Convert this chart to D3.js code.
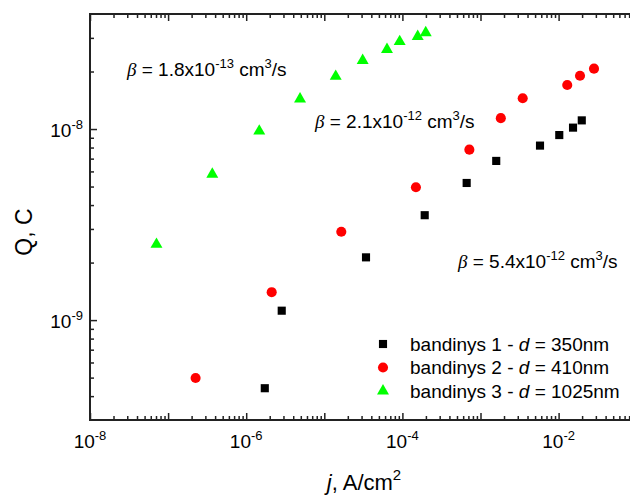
<!DOCTYPE html>
<html>
<head>
<meta charset="utf-8">
<script src="https://cdn.jsdelivr.net/npm/d3@7"></script>
<style>
  body { margin: 0; background: #fff; }
  svg { display: block; font-family: Arial, "Liberation Sans", sans-serif; }
</style>
</head>
<body>
<svg id="chart" width="630" height="495"></svg>
<script>
// current density j (A/cm2) and charge Q (C) for each sample
const j1 = [1.73e-6, 2.85e-6, 3.42e-5, 1.93e-4, 6.65e-4, 1.59e-3, 5.78e-3, 1.02e-2, 1.53e-2, 1.98e-2];
const q1 = [4.40e-10, 1.12e-9, 2.13e-9, 3.54e-9, 5.22e-9, 6.81e-9, 8.19e-9, 9.30e-9, 1.017e-8, 1.11e-8];
const j2 = [2.25e-7, 2.12e-6, 1.65e-5, 1.49e-4, 7.2e-4, 1.82e-3, 3.47e-3, 1.29e-2, 1.88e-2, 2.84e-2];
const q2 = [4.98e-10, 1.40e-9, 2.90e-9, 4.96e-9, 7.80e-9, 1.14e-8, 1.45e-8, 1.70e-8, 1.90e-8, 2.07e-8];
const j3 = [7.1e-8, 3.68e-7, 1.47e-6, 4.89e-6, 1.40e-5, 3.10e-5, 6.35e-5, 9.23e-5, 1.57e-4, 1.99e-4];
const q3 = [2.49e-9, 5.80e-9, 9.76e-9, 1.436e-8, 1.886e-8, 2.286e-8, 2.61e-8, 2.87e-8, 3.05e-8, 3.19e-8];

const sampleNames = ["bandinys 1 - ", "bandinys 2 - ", "bandinys 3 - "];
const thickness = ["350nm", "410nm", "1025nm"];
const betaMantissa = ["1.8", "2.1", "5.4"];
const betaExponent = ["-13", "-12", "-12"];
const xLabelExp = [-8, -6, -4, -2];
const yLabelExp = [-9, -8];

const svg = d3.select("svg#chart");

const plotLeft = 90, plotTop = 14, plotBottom = 420;
const decadeW = 78.1;

var x = d3.scaleLog().domain([1e-8, 1]).range([plotLeft, plotLeft + 8 * decadeW]);
var y = d3.scaleLog().domain([3e-10, 4e-8]).range([plotBottom, plotTop]);

// tick values
const xMajor = d3.range(-8, 1).map((e) => Math.pow(10, e));
const xMinor = [];
xMajor.forEach((d) => {
  for (let k = 2; k <= 9; k++) xMinor.push(d * k);
});
const yMajor = [1e-9, 1e-8];
const yMinor = [4e-10, 5e-10, 6e-10, 7e-10, 8e-10, 9e-10];
for (let k = 2; k <= 9; k++) yMinor.push(k * 1e-9);
yMinor.push(2e-8, 3e-8);

function tickAxis(axis, values, size) {
  return axis.tickValues(values).tickSize(-size).tickSizeOuter(0).tickFormat("");
}

function drawTicks(g) {
  g.select(".domain").remove();
  g.selectAll(".tick line").attr("stroke", "#222").attr("stroke-width", 1.5);
}

svg.append("g").attr("transform", `translate(0,${plotBottom})`)
  .call(tickAxis(d3.axisBottom(x), xMajor, 7)).call(drawTicks);
svg.append("g").attr("transform", `translate(0,${plotBottom})`)
  .call(tickAxis(d3.axisBottom(x), xMinor, 4)).call(drawTicks);
svg.append("g").attr("transform", `translate(0,${plotTop})`)
  .call(tickAxis(d3.axisTop(x), xMajor, 7)).call(drawTicks);
svg.append("g").attr("transform", `translate(0,${plotTop})`)
  .call(tickAxis(d3.axisTop(x), xMinor, 4)).call(drawTicks);
svg.append("g").attr("transform", `translate(${plotLeft},0)`)
  .call(tickAxis(d3.axisLeft(y), yMajor, 7)).call(drawTicks);
svg.append("g").attr("transform", `translate(${plotLeft},0)`)
  .call(tickAxis(d3.axisLeft(y), yMinor, 4)).call(drawTicks);

// frame
svg.append("rect")
  .attr("x", plotLeft)
  .attr("y", plotTop)
  .attr("width", x(1) - plotLeft)
  .attr("height", plotBottom - plotTop)
  .attr("fill", "none")
  .attr("stroke", "#222")
  .attr("stroke-width", 2);

// tick labels 10^n
function powerLabel(sel) {
  sel.append("tspan").text("10");
  sel.append("tspan")
    .attr("dy", -8)
    .attr("font-size", 13)
    .text((e) => "-" + Math.abs(e));
}

svg.selectAll("text.xlab")
  .data(xLabelExp)
  .enter()
  .append("text")
  .attr("class", "xlab")
  .attr("x", (e) => x(Math.pow(10, e)))
  .attr("y", 448)
  .attr("text-anchor", "middle")
  .attr("font-size", 19)
  .call(powerLabel);

svg.selectAll("text.ylab")
  .data(yLabelExp)
  .enter()
  .append("text")
  .attr("class", "ylab")
  .attr("x", 83)
  .attr("y", (e) => y(Math.pow(10, e)) + 8)
  .attr("text-anchor", "end")
  .attr("font-size", 19)
  .call(powerLabel);

// axis titles
svg.append("text")
  .attr("transform", "translate(32,232) rotate(-90)")
  .attr("text-anchor", "middle")
  .attr("font-size", 23)
  .text("Q, C");

var xt = svg.append("text")
  .attr("x", 364)
  .attr("y", 490)
  .attr("text-anchor", "middle")
  .attr("font-size", 22);
xt.append("tspan").attr("font-style", "italic").text("j");
xt.append("tspan").text(", A/cm");
xt.append("tspan").attr("dy", -10).attr("font-size", 15).text("2");

// data points
const colors = ["#000000", "#ff0000", "#00ff00"];
const shapes = [
  d3.symbol().type(d3.symbolSquare).size(66),
  d3.symbol().type(d3.symbolCircle).size(80),
  d3.symbol().type(d3.symbolTriangle).size(62),
];
const series = [
  j1.map((v, i) => ({ j: v, q: q1[i] })),
  j2.map((v, i) => ({ j: v, q: q2[i] })),
  j3.map((v, i) => ({ j: v, q: q3[i] })),
];

series.forEach((pts, s) => {
  svg.append("g")
    .selectAll("path")
    .data(pts)
    .enter()
    .append("path")
    .attr("d", shapes[s])
    .attr("transform", (d) => `translate(${x(d.j)},${y(d.q)})`)
    .attr("fill", colors[s]);
});

// beta annotations
const betaPos = [[127, 76], [315, 128], [458, 268]];
betaMantissa.forEach((m, i) => {
  var t = svg.append("text")
    .attr("x", betaPos[i][0])
    .attr("y", betaPos[i][1])
    .attr("font-size", 19);
  t.append("tspan").attr("font-style", "italic").attr("font-family", "Liberation Serif, serif").text("\u03b2");
  t.append("tspan").text(" = " + m + "x10");
  t.append("tspan").attr("dy", -8).attr("font-size", 13).text(betaExponent[i]);
  t.append("tspan").attr("dy", 8).text(" cm");
  t.append("tspan").attr("dy", -8).attr("font-size", 13).text("3");
  t.append("tspan").attr("dy", 8).text("/s");
});

// legend
const legendRows = [344, 367.5, 391];
sampleNames.forEach((name, i) => {
  svg.append("path")
    .attr("d", shapes[i])
    .attr("transform", `translate(383,${legendRows[i]})`)
    .attr("fill", colors[i]);
  var t = svg.append("text")
    .attr("x", 410)
    .attr("y", legendRows[i] + 6.5)
    .attr("font-size", 19);
  t.append("tspan").text(name);
  t.append("tspan").attr("font-style", "italic").text("d");
  t.append("tspan").text(" = " + thickness[i]);
});
</script>
</body>
</html>
